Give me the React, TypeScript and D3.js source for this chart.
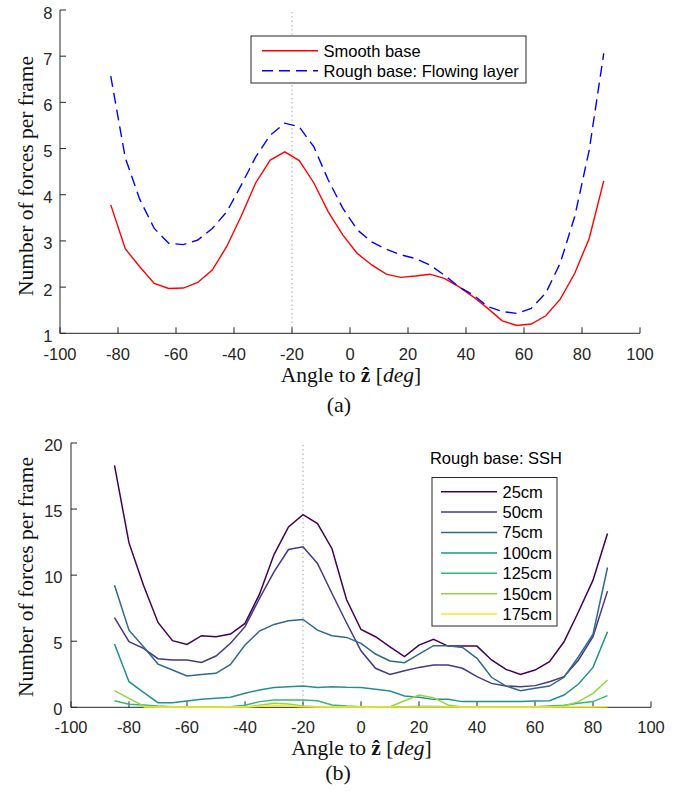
import React from 'react';
import * as d3 from 'd3';

const anglesA = [-82.5, -77.5, -72.5, -67.5, -62.5, -57.5, -52.5, -47.5, -42.5, -37.5, -32.5, -27.5, -22.5, -17.5, -12.5, -7.5, -2.5, 2.5, 7.5, 12.5, 17.5, 22.5, 27.5, 32.5, 37.5, 42.5, 47.5, 52.5, 57.5, 62.5, 67.5, 72.5, 77.5, 82.5, 87.5];
const smoothBase = [3.78, 2.83, 2.44, 2.08, 1.97, 1.98, 2.10, 2.37, 2.88, 3.54, 4.26, 4.75, 4.93, 4.74, 4.26, 3.63, 3.13, 2.73, 2.48, 2.28, 2.21, 2.24, 2.28, 2.19, 2.01, 1.79, 1.54, 1.27, 1.17, 1.20, 1.38, 1.74, 2.30, 3.06, 4.30];
const flowingLayer = [6.57, 4.80, 3.90, 3.27, 2.95, 2.92, 3.02, 3.27, 3.63, 4.21, 4.82, 5.29, 5.55, 5.47, 5.04, 4.32, 3.71, 3.24, 2.98, 2.82, 2.70, 2.62, 2.48, 2.26, 2.01, 1.83, 1.58, 1.47, 1.43, 1.54, 1.87, 2.52, 3.53, 4.97, 7.06];
const seriesALabels = ['Smooth base', 'Rough base: Flowing layer'];

const anglesB = [-85, -80, -75, -70, -65, -60, -55, -50, -45, -40, -35, -30, -25, -20, -15, -10, -5, 0, 5, 10, 15, 20, 25, 30, 35, 40, 45, 50, 55, 60, 65, 70, 75, 80, 85];
const ssh25 = [18.3, 12.44, 9.24, 6.42, 5.04, 4.76, 5.42, 5.34, 5.54, 6.35, 8.56, 11.56, 13.65, 14.58, 13.9, 12.0, 8.16, 5.89, 5.34, 4.58, 3.83, 4.71, 5.14, 4.63, 4.63, 4.63, 3.58, 2.87, 2.49, 2.82, 3.45, 4.96, 7.23, 9.62, 13.15];
const ssh50 = [6.78, 4.96, 4.46, 3.68, 3.58, 3.58, 3.40, 3.88, 4.84, 6.10, 8.24, 10.25, 11.94, 12.14, 10.88, 8.61, 6.40, 4.28, 2.95, 2.49, 2.77, 3.02, 3.20, 3.20, 2.95, 2.32, 1.81, 1.61, 1.56, 1.64, 1.94, 2.32, 3.58, 5.34, 8.79];
const ssh75 = [9.24, 5.84, 4.58, 3.27, 2.82, 2.37, 2.49, 2.57, 3.25, 4.71, 5.77, 6.27, 6.55, 6.65, 5.84, 5.42, 5.29, 4.84, 4.03, 3.50, 3.38, 4.03, 4.66, 4.66, 4.53, 3.70, 2.27, 1.61, 1.26, 1.44, 1.61, 2.27, 3.83, 5.54, 10.58];
const ssh100 = [4.79, 1.94, 1.13, 0.35, 0.35, 0.48, 0.60, 0.68, 0.76, 1.06, 1.31, 1.49, 1.56, 1.61, 1.49, 1.56, 1.51, 1.49, 1.36, 1.23, 0.86, 0.76, 0.60, 0.60, 0.43, 0.43, 0.43, 0.43, 0.43, 0.48, 0.50, 0.93, 1.76, 3.02, 5.72];
const ssh125 = [0.50, 0.23, 0.18, 0.10, 0.05, 0.05, 0.05, 0.05, 0.05, 0.15, 0.43, 0.55, 0.55, 0.55, 0.50, 0.18, 0.10, 0.05, 0.05, 0.05, 0.05, 0.06, 0.06, 0.05, 0.05, 0.05, 0.05, 0.05, 0.05, 0.05, 0.10, 0.15, 0.30, 0.43, 0.88];
const ssh150 = [1.26, 0.68, 0.10, 0.02, 0.02, 0.02, 0.02, 0.02, 0.02, 0.02, 0.15, 0.30, 0.25, 0.10, 0.05, 0.02, 0.02, 0.02, 0.02, 0.05, 0.50, 0.93, 0.73, 0.18, 0.02, 0.02, 0.02, 0.02, 0.02, 0.02, 0.02, 0.10, 0.43, 1.06, 2.07];
const ssh175 = [null, null, 0.02, 0.02, 0.02, 0.02, 0.02, 0.02, 0.02, 0.02, 0.08, 0.12, 0.10, 0.04, 0.02, 0.02, 0.02, 0.02, 0.02, 0.02, 0.02, 0.02, 0.02, 0.02, 0.02, 0.02, 0.02, 0.02, 0.02, 0.02, 0.02, 0.02, 0.02, 0.03, 0.05];
const sshLabels = ['25cm', '50cm', '75cm', '100cm', '125cm', '150cm', '175cm'];
const sshColors = ['#440154', '#443983', '#31688e', '#21918c', '#35b779', '#90d743', '#fde725'];

const xTicks = [-100, -80, -60, -40, -20, 0, 20, 40, 60, 80, 100];
const yTicksA = [1, 2, 3, 4, 5, 6, 7, 8];
const yTicksB = [0, 5, 10, 15, 20];
const markerAngle = -20;

const AX = '#262626';
const SANS = "'Liberation Sans', Arial, sans-serif";
const SERIF = "'Liberation Serif', 'Times New Roman', serif";
const DASH = '11,6';

function XLabel({ x, y }: { x: number; y: number }) {
  return (
    <text x={x} y={y} textAnchor="middle" fontFamily={SERIF} fontSize={21.5} fill="#111">
      Angle to <tspan fontWeight="bold">ẑ</tspan> [<tspan fontStyle="italic">deg</tspan>]
    </text>
  );
}

function YLabel({ x, y }: { x: number; y: number }) {
  return (
    <text transform={`translate(${x},${y}) rotate(-90)`} textAnchor="middle" fontFamily={SERIF} fontSize={21.5} fill="#111">
      Number of forces per frame
    </text>
  );
}

export default function App() {
  const xA = d3.scaleLinear().domain([-100, 100]).range([60, 640]);
  const yA = d3.scaleLinear().domain([1, 8]).range([333.3, 10]);
  const xB = d3.scaleLinear().domain([-100, 100]).range([71, 651]);
  const yB = d3.scaleLinear().domain([0, 20]).range([707.3, 443]);

  const lineA = d3.line<number>().x((_, i) => xA(anglesA[i])).y((d) => yA(d));
  const lineB = d3
    .line<number | null>()
    .defined((d) => d !== null)
    .x((_, i) => xB(anglesB[i]))
    .y((d) => yB(d as number));

  const sshSeries = [ssh25, ssh50, ssh75, ssh100, ssh125, ssh150, ssh175];

  return (
    <svg width={680} height={791} style={{ position: 'absolute', left: 0, top: 0, background: '#fff' }}>
      <rect x={0} y={0} width={680} height={791} fill="#fff" />

      {/* ---------- Panel (a) ---------- */}
      <line x1={xA(markerAngle)} x2={xA(markerAngle)} y1={yA(8) + 2} y2={yA(1)} stroke="#b4b4b4" strokeWidth={1.3} strokeDasharray="1.3,3" />
      <path d={lineA(smoothBase) || ''} fill="none" stroke="#ff0000" strokeWidth={1.4} />
      <path d={lineA(flowingLayer) || ''} fill="none" stroke="#0000ff" strokeWidth={1.4} strokeDasharray={DASH} />

      <line x1={xA(-100)} x2={xA(-100)} y1={yA(8)} y2={yA(1)} stroke={AX} strokeWidth={1} />
      <line x1={xA(-100)} x2={xA(100)} y1={yA(1)} y2={yA(1)} stroke={AX} strokeWidth={1} />
      {xTicks.map((t) => (
        <g key={`xa${t}`}>
          <line x1={xA(t)} x2={xA(t)} y1={yA(1)} y2={yA(1) - 6} stroke={AX} strokeWidth={1} />
          <text x={xA(t)} y={360} textAnchor="middle" fontFamily={SANS} fontSize={16.5} fill={AX}>{t}</text>
        </g>
      ))}
      {yTicksA.map((t) => (
        <g key={`ya${t}`}>
          <line x1={xA(-100)} x2={xA(-100) + 6} y1={yA(t)} y2={yA(t)} stroke={AX} strokeWidth={1} />
          <text x={52.5} y={yA(t) + 8.5} textAnchor="end" fontFamily={SANS} fontSize={16.5} fill={AX}>{t}</text>
        </g>
      ))}
      <XLabel x={351} y={381.5} />
      <YLabel x={32.5} y={176} />
      <text x={339} y={411.5} textAnchor="middle" fontFamily={SERIF} fontSize={22} fill="#111">(a)</text>

      <rect x={251} y={36} width={275} height={47} fill="#fff" stroke={AX} strokeWidth={1} />
      {seriesALabels.map((lab, i) => (
        <g key={lab}>
          <line x1={262} x2={318} y1={50.7 + i * 20} y2={50.7 + i * 20} stroke={i === 0 ? '#ff0000' : '#0000ff'} strokeWidth={1.4} strokeDasharray={i === 0 ? undefined : DASH} />
          <text x={323.5} y={50.7 + i * 20 + 5.8} fontFamily={SANS} fontSize={16.5} fill="#000">{lab}</text>
        </g>
      ))}

      {/* ---------- Panel (b) ---------- */}
      <line x1={xB(markerAngle)} x2={xB(markerAngle)} y1={yB(20) + 2} y2={yB(0)} stroke="#b4b4b4" strokeWidth={1.3} strokeDasharray="1.3,3" />
      <line x1={xB(-100)} x2={xB(-100)} y1={yB(20)} y2={yB(0)} stroke={AX} strokeWidth={1} />
      <line x1={xB(-100)} x2={xB(100)} y1={yB(0)} y2={yB(0)} stroke={AX} strokeWidth={1} />
      {xTicks.map((t) => (
        <g key={`xb${t}`}>
          <line x1={xB(t)} x2={xB(t)} y1={yB(0)} y2={yB(0) - 6} stroke={AX} strokeWidth={1} />
          <text x={xB(t)} y={732.5} textAnchor="middle" fontFamily={SANS} fontSize={16.5} fill={AX}>{t}</text>
        </g>
      ))}
      {yTicksB.map((t) => (
        <g key={`yb${t}`}>
          <line x1={xB(-100)} x2={xB(-100) + 6} y1={yB(t)} y2={yB(t)} stroke={AX} strokeWidth={1} />
          <text x={62.5} y={yB(t) + 7.5} textAnchor="end" fontFamily={SANS} fontSize={16.5} fill={AX}>{t}</text>
        </g>
      ))}
      {sshSeries.map((s, k) => (
        <path key={sshLabels[k]} d={lineB(s) || ''} fill="none" stroke={sshColors[k]} strokeWidth={1.5} />
      ))}
      <XLabel x={361.5} y={755} />
      <YLabel x={32.5} y={577} />
      <text x={338} y={780} textAnchor="middle" fontFamily={SERIF} fontSize={22} fill="#111">(b)</text>

      <text x={496} y={463.5} textAnchor="middle" fontFamily={SANS} fontSize={16.5} fill="#000">Rough base: SSH</text>
      <rect x={432} y={477.5} width={125} height={148.5} fill="#fff" stroke={AX} strokeWidth={1} />
      {sshLabels.map((lab, i) => (
        <g key={`lg${lab}`}>
          <line x1={441} x2={497} y1={491.7 + i * 20.4} y2={491.7 + i * 20.4} stroke={sshColors[i]} strokeWidth={1.5} />
          <text x={502.5} y={491.7 + i * 20.4 + 5.8} fontFamily={SANS} fontSize={16.5} fill="#000">{lab}</text>
        </g>
      ))}
    </svg>
  );
}
